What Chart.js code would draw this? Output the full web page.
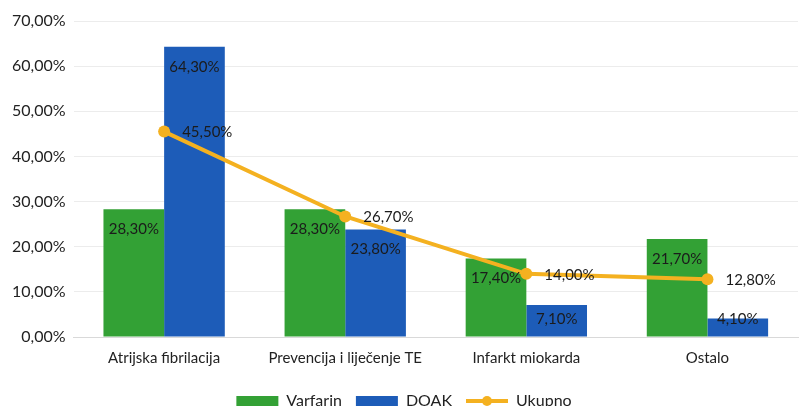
<!DOCTYPE html>
<html>
<head>
<meta charset="utf-8">
<script src="https://cdn.jsdelivr.net/npm/chart.js@4.4.0/dist/chart.umd.min.js"></script>
<style>
  html, body { margin: 0; padding: 0; background: #fff; overflow: hidden; }
  /* the legend in the original picture is cut off at the bottom edge */
  #wrap { width: 804px; height: 419px; position: relative; }
</style>
</head>
<body>
<div id="wrap"><canvas id="chart"></canvas></div>
<script>
const categories = ['Atrijska fibrilacija', 'Prevencija i liječenje TE', 'Infarkt miokarda', 'Ostalo'];
const varfarin = [28.3, 28.3, 17.4, 21.7];
const doak = [64.3, 23.8, 7.1, 4.1];
const ukupno = [45.5, 26.7, 14.0, 12.8];
const yTicks = ['0,00%', '10,00%', '20,00%', '30,00%', '40,00%', '50,00%', '60,00%', '70,00%'];

const GREEN = '#33a135';
const BLUE = '#1d5cb8';
const ORANGE = '#f4b120';
const FONT = 'Lato';

const pct = v => v.toFixed(2).replace('.', ',') + '%';

// value labels, Excel style: inside end for bars, right of the point for the line
const valueLabels = {
  id: 'valueLabels',
  afterDatasetsDraw(chart) {
    const ctx = chart.ctx;
    const base = chart.scales.y.getPixelForValue(0);
    ctx.save();
    ctx.font = '15px ' + FONT;
    ctx.fillStyle = '#1b1b1b';
    ctx.textBaseline = 'middle';
    chart.data.datasets.forEach((ds, i) => {
      const meta = chart.getDatasetMeta(i);
      meta.data.forEach((el, j) => {
        const txt = pct(ds.data[j]);
        if (ds.type === 'line') {
          ctx.textAlign = 'left';
          ctx.fillText(txt, el.x + 18, el.y + 1);
        } else {
          ctx.textAlign = 'center';
          ctx.fillText(txt, el.x, Math.min(el.y + 20, base - 18));
        }
      });
    });
    ctx.restore();
  }
};

// dot on the line legend marker
const legendDot = {
  id: 'legendDot',
  afterDraw(chart) {
    const lg = chart.legend;
    const idx = lg.legendItems.findIndex(it => it.datasetIndex === 2);
    const b = lg.legendHitBoxes[idx];
    if (!b) return;
    const ctx = chart.ctx;
    ctx.save();
    ctx.fillStyle = ORANGE;
    ctx.beginPath();
    ctx.arc(b.left + 21, b.top + b.height / 2, 5, 0, Math.PI * 2);
    ctx.fill();
    ctx.restore();
  }
};

new Chart(document.getElementById('chart'), {
  type: 'bar',
  data: {
    labels: categories,
    datasets: [{
      label: 'Varfarin',
      data: varfarin,
      backgroundColor: GREEN,
      borderWidth: 0,
      order: 2
    }, {
      label: 'DOAK',
      data: doak,
      backgroundColor: BLUE,
      borderWidth: 0,
      order: 2
    }, {
      type: 'line',
      label: 'Ukupno',
      data: ukupno,
      borderColor: ORANGE,
      backgroundColor: ORANGE,
      borderWidth: 4,
      pointRadius: 6,
      pointBackgroundColor: ORANGE,
      pointBorderWidth: 0,
      tension: 0,
      order: 1
    }]
  },
  options: {
    responsive: true,
    maintainAspectRatio: false,
    animation: false,
    categoryPercentage: 0.67,
    barPercentage: 1,
    layout: { padding: { top: 21, right: 0, left: 4, bottom: 0 } },
    plugins: {
      tooltip: { enabled: false },
      legend: {
        position: 'bottom',
        labels: {
          font: { family: FONT, size: 16 },
          color: '#222',
          usePointStyle: true,
          pointStyleWidth: 42,
          boxHeight: 10,
          padding: 14,
          sort: (a, b) => a.datasetIndex - b.datasetIndex,
          generateLabels(chart) {
            const items = Chart.defaults.plugins.legend.labels.generateLabels(chart);
            items.forEach(it => {
              it.pointStyle = it.datasetIndex === 2 ? 'line' : 'rect';
              if (it.datasetIndex === 2) it.lineWidth = 4;
            });
            return items;
          }
        }
      }
    },
    scales: {
      x: {
        grid: { display: false, drawTicks: false },
        border: { color: '#d9d9d9', width: 1 },
        ticks: { font: { family: FONT, size: 15 }, color: '#222', padding: 12 }
      },
      y: {
        min: 0,
        max: 70,
        border: { display: false },
        grid: { color: '#ececec', drawTicks: false },
        ticks: {
          stepSize: 10,
          padding: 8,
          font: { family: FONT, size: 16 },
          color: '#222',
          callback: (v, i) => yTicks[i]
        }
      }
    }
  },
  plugins: [valueLabels, legendDot]
});
</script>
</body>
</html>
